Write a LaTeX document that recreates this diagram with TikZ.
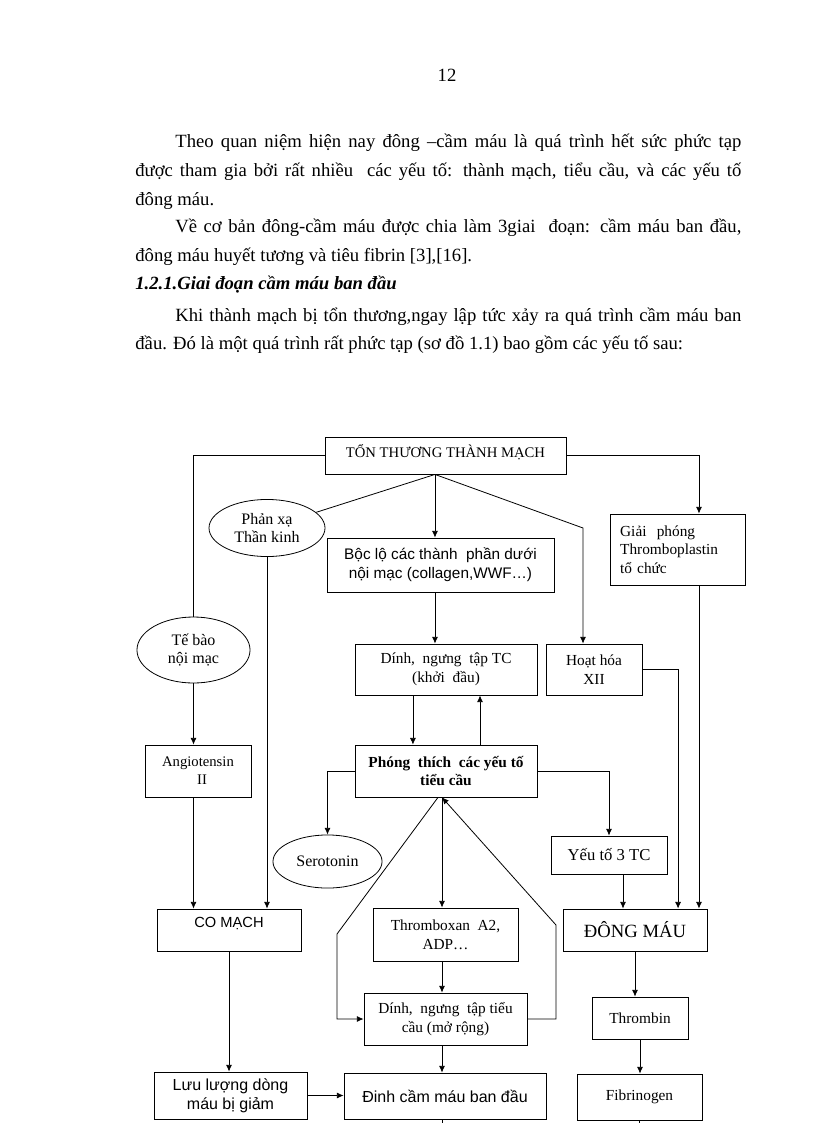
\documentclass[tikz,border=0pt]{standalone}
\usepackage{fontspec}
\setmainfont{Liberation Serif}
\setsansfont{Liberation Sans}
\usetikzlibrary{shapes.geometric, arrows.meta}

\begin{document}
\begin{tikzpicture}[x=0.75pt, y=-0.75pt, line width=0.6pt,
        >={Latex[length=5pt,width=4.5pt]},
        box/.style={draw, rectangle, inner sep=1pt, align=center, font=\fontsize{11.5}{14}\selectfont},
        sbox/.style={box, font=\sffamily\fontsize{11.5}{14}\selectfont},
        oval/.style={draw, ellipse, inner sep=0pt, align=center, font=\fontsize{12}{13}\selectfont},
        para/.style={anchor=base west, inner sep=0pt, text width=454.5pt, align=justify, font=\fontsize{14}{21.4}\selectfont}]

        \useasboundingbox (0, 0) rectangle (816, 1123);

        % page text
        \node[anchor=base, font=\fontsize{14}{16}\selectfont] (pagenum) at (447, 82) {12};
        \node[para] (p1) at (135, 148) {\hspace*{30pt}Theo quan niệm hiện nay đông –cầm máu là quá trình hết sức phức tạp\linebreak được tham gia bởi rất nhiều\ \ các yếu tố: thành mạch, tiểu cầu, và các yếu tố\linebreak đông máu.};
        \node[para] (p2) at (135, 233) {\hspace*{30pt}Về cơ bản đông-cầm máu được chia làm 3giai\ \ đoạn: cầm máu ban đầu,\linebreak đông máu huyết tương và tiêu fibrin [3],[16].};
        \node[anchor=base west, inner sep=0pt, font=\fontsize{14}{16}\selectfont\bfseries\itshape] (head) at (135, 289) {1.2.1.Giai đoạn cầm máu ban đầu};
        \node[para] (p3) at (135, 321) {\hspace*{30pt}Khi thành mạch bị tổn thương,ngay lập tức xảy ra quá trình cầm máu ban\linebreak đầu. Đó là một quá trình rất phức tạp (sơ đồ 1.1) bao gồm các yếu tố sau:};

        % diagram
        \node[box, minimum width=180.8pt, minimum height=27.8pt, text depth=7pt, font=\fontsize{11}{13}\selectfont] (ton) at (445.5, 455.5) {TỔN THƯƠNG THÀNH MẠCH};
        \node[box, minimum width=101.3pt, minimum height=53.3pt, text width=86pt, inner sep=7.5pt, align=left] (giai) at (677.5, 549.5) {Giải\ \ phóng\\Thromboplastin\\tổ chức};
        \node[oval, minimum width=87pt, minimum height=42.8pt] (phanxa) at (267, 528) {Phản xạ\\Thần kinh};
        \node[sbox, minimum width=170.3pt, minimum height=40.5pt] (boclo) at (440.5, 565) {Bộc lộ các thành\ \ phần dưới\\nội mạc (collagen,WWF…)};
        \node[oval, minimum width=84.8pt, minimum height=49.5pt] (tebao) at (193.5, 650) {Tế bào\\nội mạc};
        \node[box, minimum width=136.5pt, minimum height=38.3pt] (dinhtc) at (446, 669.5) {Dính,\ \ ngưng\ \ tập TC\\(khởi\ \ đầu)};
        \node[box, minimum width=72pt, minimum height=38.3pt] (hoathoa) at (594, 669.5) {Hoạt hóa\\XII};
        \node[box, minimum width=79.5pt, minimum height=39pt, font=\fontsize{11}{13.5}\selectfont] (angio) at (198, 771) {Angiotensin\\\hspace*{6pt}II};
        \node[box, minimum width=136.5pt, minimum height=39pt, font=\fontsize{11.5}{14}\selectfont\bfseries] (phong) at (446, 771) {Phóng\ \ thích\ \ các yếu tố\\tiểu cầu};
        \node[oval, minimum width=81.8pt, minimum height=39.8pt] (sero) at (327.5, 861.5) {Serotonin};
        \node[box, minimum width=87pt, minimum height=28.5pt, font=\fontsize{12.5}{14}\selectfont] (yeuto) at (609, 855) {Yếu tố 3 TC};
        \node[sbox, minimum width=108pt, minimum height=31.5pt, font=\sffamily\fontsize{11}{13}\selectfont, text depth=12pt] (comach) at (229, 930) {CO MẠCH};
        \node[box, minimum width=108pt, minimum height=31.5pt, font=\fontsize{14}{16}\selectfont] (dongmau) at (635, 930) {ĐÔNG MÁU};
        \node[box, minimum width=108.8pt, minimum height=39.8pt] (thrombox) at (445.5, 934.5) {Thromboxan\ \ A2,\\ADP…};
        \node[box, minimum width=122.3pt, minimum height=39pt] (dinhmr) at (445.5, 1019) {Dính,\ \ ngưng\ \ tập tiểu\\cầu (mở rộng)};
        \node[box, minimum width=72pt, minimum height=31.5pt] (thrombin) at (640, 1018) {Thrombin};
        \node[sbox, minimum width=114.8pt, minimum height=35.3pt, font=\sffamily\fontsize{12}{14}\selectfont] (luuluong) at (230.5, 1095.5) {Lưu lượng dòng\\máu bị giảm};
        \node[sbox, minimum width=151.5pt, minimum height=34.5pt, font=\sffamily\fontsize{12}{14}\selectfont] (dinhcm) at (445, 1096) {Đinh cầm máu ban đầu};
        \node[box, minimum width=93.8pt, minimum height=34.5pt] (fibrin) at (639.5, 1097) {Fibrinogen};

        \coordinate (fan) at ([xshift=-7.9pt]ton.south);
        \coordinate (xiibend) at (583, 528);
        \coordinate (lk) at (337, 934);
        \coordinate (rk) at (556, 925);
        \coordinate (pb) at ([xshift=-3pt]phong.south);

        \draw (ton.west) -| (tebao.north);
        \draw[->] (ton.east) -| ([xshift=16.1pt]giai.north);
        \draw (fan) -- (phanxa);
        \draw[->] (fan) -- (fan |- boclo.north);
        \draw[->] (fan) -- (xiibend) -- (xiibend |- hoathoa.north);
        \draw[->] (phanxa.south) -- (phanxa.south |- comach.north);
        \draw[->] (tebao.south) -- (tebao.south |- angio.north);
        \draw[->] (tebao.south |- angio.south) -- (tebao.south |- comach.north);
        \draw[->] (fan |- boclo.south) -- (fan |- dinhtc.north);
        \draw[->] ([xshift=-24.8pt]dinhtc.south) -- ([xshift=-24.8pt]phong.north);
        \draw[->] ([xshift=25.5pt]phong.north) -- ([xshift=25.5pt]dinhtc.south);
        \draw[->] (hoathoa.east) -| ([xshift=32.3pt]dongmau.north);
        \draw[->] ([xshift=16.1pt]giai.south) -- ([xshift=16.1pt]giai.south |- dongmau.north);
        \draw[->] (phong.west) -| (sero.north);
        \draw[->] (phong.east) -| (yeuto.north);
        \draw[->] ([xshift=10.5pt]yeuto.south) -- ([xshift=10.5pt]yeuto.south |- dongmau.north);
        \draw[->] (pb) -- (pb |- thrombox.north);
        \draw[->] ([xshift=-6pt]phong.south) -- (lk) |- (dinhmr.west);
        \draw[->] (dinhmr.east) -| (rk) -- (pb);
        \draw[->] (pb |- thrombox.south) -- (pb |- dinhmr.north);
        \draw[->] (pb |- dinhmr.south) -- (pb |- dinhcm.north);
        \draw[->] (comach.south) -- (comach.south |- luuluong.north);
        \draw[->] (luuluong.east) -- (luuluong.east -| dinhcm.west);
        \draw[->] (dongmau.south) -- (dongmau.south |- thrombin.north);
        \draw[->] (thrombin.south) -- (thrombin.south |- fibrin.north);
        \draw (pb |- dinhcm.south) -- ++(0, 4);
        \draw (fibrin.south) -- ++(0, 3);
    \end{tikzpicture}
\end{document}
